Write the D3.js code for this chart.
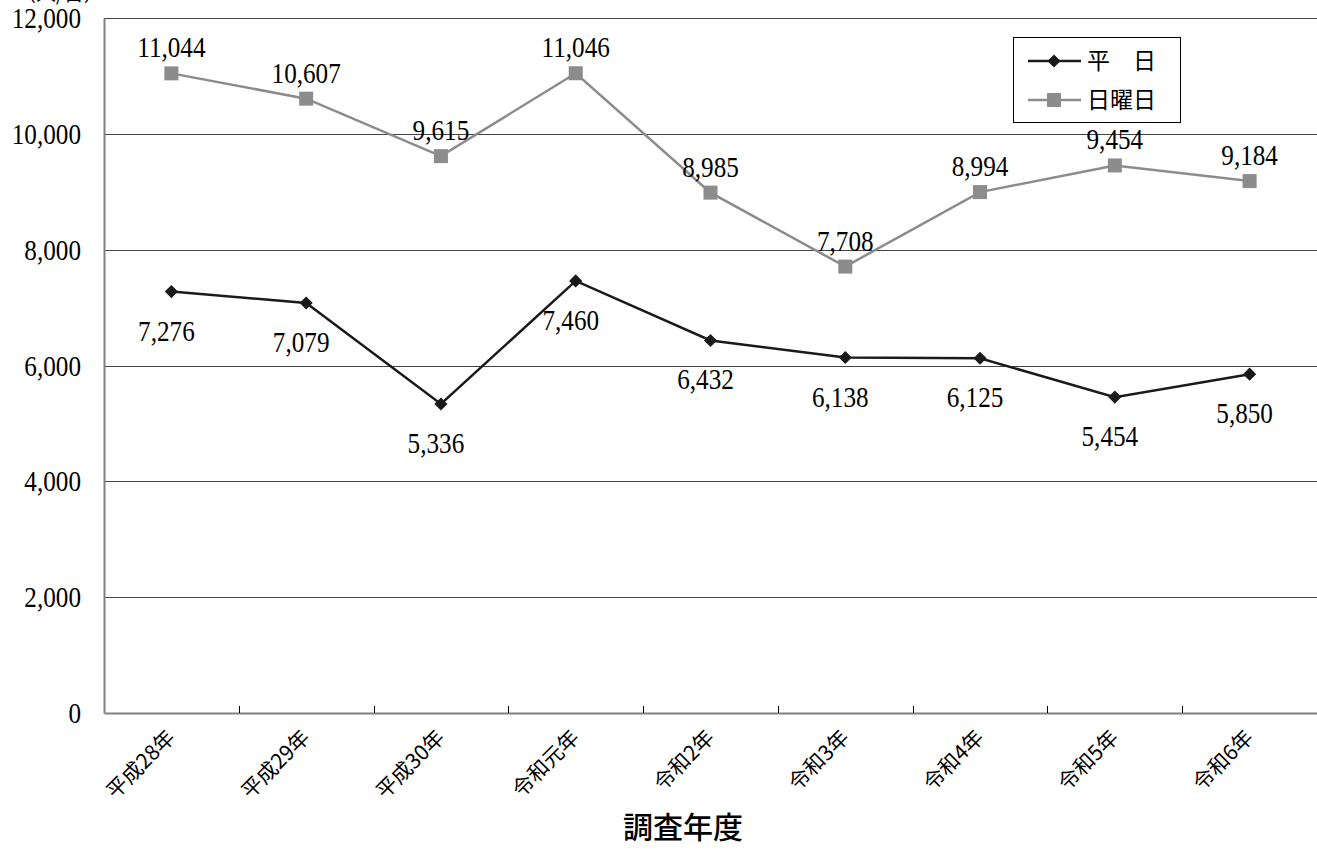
<!DOCTYPE html>
<html><head><meta charset="utf-8">
<script src="https://cdn.jsdelivr.net/npm/d3@7"></script>
<style>
html,body{margin:0;padding:0;background:#fff;overflow:hidden;}
svg{display:block;}
</style></head>
<body>
<svg id="chart" width="1317" height="855"></svg>
<script>
const categories = ["平成28年","平成29年","平成30年","令和元年","令和2年","令和3年","令和4年","令和5年","令和6年"];
const weekdayValues = [7276, 7079, 5336, 7460, 6432, 6138, 6125, 5454, 5850];
const sundayValues = [11044, 10607, 9615, 11046, 8985, 7708, 8994, 9454, 9184];
const seriesNames = ["平　日", "日曜日"];
const yTicks = [0, 2000, 4000, 6000, 8000, 10000, 12000];
const xTitle = "調査年度";
const unitLabel = "（人/日）";

const svg = d3.select("#chart");
const m = {left:104, top:18, right:1317, bottom:713};
const numFont = "'Liberation Serif','DejaVu Serif',serif";
const cjkFont = "'Noto Sans CJK JP','Noto Sans CJK SC',sans-serif";
const sx = 0.84;   // horizontal condensing of numeric labels

const x = d3.scaleBand().domain(categories).range([m.left, m.right]).paddingInner(0).paddingOuter(0);
const y = d3.scaleLinear().domain([0, 12000]).range([m.bottom, m.top]);
const cx = d => x(d) + x.bandwidth()/2;
const fmt = d3.format(",");

// unit label (cut off at the top, as in the reference)
svg.append("text").attr("x", 16).attr("y", 1).attr("font-family", cjkFont)
  .attr("font-size", 20).attr("fill", "#000").text(unitLabel);

// gridlines
svg.append("g").selectAll("line").data(yTicks.filter(d => d > 0)).join("line")
  .attr("x1", m.left).attr("x2", m.right)
  .attr("y1", d => Math.round(y(d)) + 0.5).attr("y2", d => Math.round(y(d)) + 0.5)
  .attr("stroke", "#444").attr("stroke-width", 1);

// y axis
const yAxis = d3.axisLeft(y).tickValues(yTicks).tickSize(0).tickFormat("");
const gy = svg.append("g").attr("transform", `translate(${m.left},0)`).call(yAxis);
gy.select(".domain").attr("stroke", "#808080").attr("stroke-width", 2);
svg.append("g").selectAll("text").data(yTicks).join("text")
  .attr("transform", d => `translate(81,${y(d) + 10}) scale(${sx},1)`)
  .attr("text-anchor", "end").attr("font-family", numFont).attr("font-size", 30).attr("fill", "#000")
  .text(d => fmt(d));

// x axis
const xAxis = d3.axisBottom(x).tickSize(0).tickFormat("");
const gx = svg.append("g").attr("transform", `translate(0,${m.bottom})`).call(xAxis);
gx.select(".domain").attr("stroke", "#808080").attr("stroke-width", 2);
const bounds = categories.map(c => x(c)).concat([m.right]);
svg.append("g").selectAll("line").data(bounds.slice(1, -1)).join("line")
  .attr("x1", d => Math.round(d) + 0.5).attr("x2", d => Math.round(d) + 0.5)
  .attr("y1", m.bottom - 7).attr("y2", m.bottom)
  .attr("stroke", "#000").attr("stroke-width", 1);

// x labels rotated
svg.append("g").selectAll("text").data(categories).join("text")
  .attr("transform", d => `translate(${cx(d) + 5},${m.bottom + 26}) rotate(-45)`)
  .attr("text-anchor", "end")
  .attr("font-family", cjkFont).attr("font-size", 21).attr("fill", "#000")
  .text(d => d);

// x title
svg.append("text").attr("x", 683).attr("y", 838).attr("text-anchor", "middle")
  .attr("font-family", cjkFont).attr("font-size", 30).attr("font-weight", 500).attr("fill", "#000")
  .text(xTitle);

const line = d3.line().x((d, i) => cx(categories[i])).y(d => y(d));

// 日曜日 series
const sunColor = "#8c8c8c";
svg.append("path").datum(sundayValues).attr("d", line).attr("fill", "none")
  .attr("stroke", sunColor).attr("stroke-width", 2.5);
svg.append("g").selectAll("rect").data(sundayValues).join("rect")
  .attr("x", (d, i) => cx(categories[i]) - 7).attr("y", d => y(d) - 7)
  .attr("width", 14).attr("height", 14).attr("fill", sunColor);
svg.append("g").selectAll("text").data(sundayValues).join("text")
  .attr("transform", (d, i) => `translate(${cx(categories[i])},${y(d) - 16}) scale(${sx},1)`)
  .attr("text-anchor", "middle").attr("font-family", numFont).attr("font-size", 30).attr("fill", "#000")
  .text(d => fmt(d));

// 平日 series
const wkColor = "#1a1a1a";
svg.append("path").datum(weekdayValues).attr("d", line).attr("fill", "none")
  .attr("stroke", wkColor).attr("stroke-width", 2.5);
const diamond = d3.symbol().type(d3.symbolDiamond2).size(110);
svg.append("g").selectAll("path").data(weekdayValues).join("path")
  .attr("transform", (d, i) => `translate(${cx(categories[i])},${y(d)})`)
  .attr("d", diamond).attr("fill", wkColor);
svg.append("g").selectAll("text").data(weekdayValues).join("text")
  .attr("transform", (d, i) => `translate(${cx(categories[i]) - 5},${y(d) + 49}) scale(${sx},1)`)
  .attr("text-anchor", "middle").attr("font-family", numFont).attr("font-size", 30).attr("fill", "#000")
  .text(d => fmt(d));

// legend
const lg = svg.append("g");
lg.append("rect").attr("x", 1013.5).attr("y", 37.5).attr("width", 167).attr("height", 85)
  .attr("fill", "#fff").attr("stroke", "#000").attr("stroke-width", 1);
const legendItems = [
  {name: seriesNames[0], color: wkColor, type: "diamond", y: 61},
  {name: seriesNames[1], color: sunColor, type: "square", y: 100}
];
legendItems.forEach(it => {
  lg.append("line").attr("x1", 1028).attr("x2", 1081).attr("y1", it.y).attr("y2", it.y)
    .attr("stroke", it.color).attr("stroke-width", 2.5);
  if (it.type === "diamond") {
    lg.append("path").attr("transform", `translate(1054,${it.y})`).attr("d", diamond).attr("fill", it.color);
  } else {
    lg.append("rect").attr("x", 1047).attr("y", it.y - 7).attr("width", 14).attr("height", 14).attr("fill", it.color);
  }
  lg.append("text").attr("x", 1087).attr("y", it.y + 8).attr("font-family", cjkFont)
    .attr("font-size", 23).attr("fill", "#000").text(it.name);
});
</script>
</body></html>
